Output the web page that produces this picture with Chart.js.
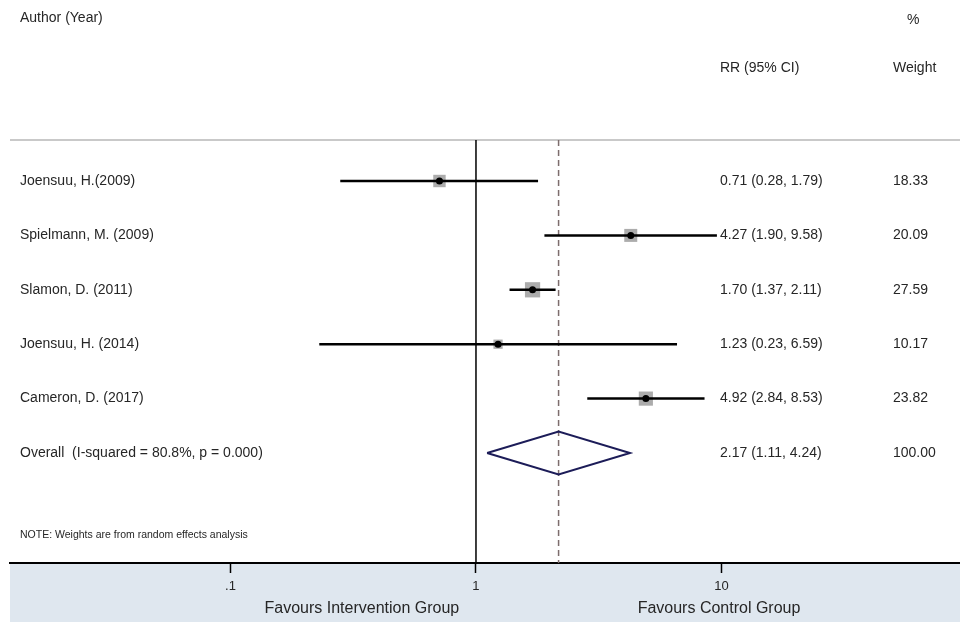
<!DOCTYPE html>
<html><head><meta charset="utf-8">
<script src="https://cdn.jsdelivr.net/npm/chart.js@4/dist/chart.umd.min.js"></script>
<style>html,body{margin:0;padding:0;background:#fff}#wrap{width:960px;height:622px}</style>
</head><body><div id="wrap"><canvas id="c" width="960" height="622"></canvas></div>
<script>
// ---- data ----
const studies = ["Joensuu, H.(2009)", "Spielmann, M. (2009)", "Slamon, D. (2011)", "Joensuu, H. (2014)", "Cameron, D. (2017)"];
const rr = [0.71, 4.27, 1.70, 1.23, 4.92];
const lower = [0.28, 1.90, 1.37, 0.23, 2.84];
const upper = [1.79, 9.58, 2.11, 6.59, 8.53];
const weights = [18.33, 20.09, 27.59, 10.17, 23.82];
const rrText = ["0.71 (0.28, 1.79)", "4.27 (1.90, 9.58)", "1.70 (1.37, 2.11)", "1.23 (0.23, 6.59)", "4.92 (2.84, 8.53)"];
const weightText = ["18.33", "20.09", "27.59", "10.17", "23.82"];
const overallLabel = "Overall  (I-squared = 80.8%, p = 0.000)";
const overallRR = [2.17];
const overallCI = [1.11, 4.24];
const overallText = ["2.17 (1.11, 4.24)", "100.00"];
const tickValues = [0.1, 1, 10];
const tickLabels = [".1", "1", "10"];
const axisTitles = ["Favours Intervention Group", "Favours Control Group"];
const noteText = "NOTE: Weights are from random effects analysis";

// ---- scale limits ----
const XMIN = Math.pow(10, -1.898);
const XMAX = Math.pow(10, 1.9715);
const YMIN = -0.7537;
const YMAX = 7.022;
const FONT = "'Liberation Sans', Arial, sans-serif";
const TXT = '#262626';
const overallRow = studies.length;

const datasets = [];
// dots
datasets.push({
  data: rr.map((v, i) => ({x: v, y: i})),
  pointStyle: 'circle', pointRadius: 3.5, pointBackgroundColor: '#000', pointBorderWidth: 0,
  showLine: false, order: 0
});
// CI lines
studies.forEach((s, i) => {
  datasets.push({
    data: [{x: lower[i], y: i}, {x: upper[i], y: i}],
    showLine: true, borderColor: '#000', borderWidth: 2.5, pointRadius: 0, order: 1
  });
});
// weight squares
datasets.push({
  data: rr.map((v, i) => ({x: v, y: i})),
  pointStyle: 'rect',
  pointRadius: weights.map(w => 2.9 * Math.sqrt(w) / Math.SQRT2),
  pointBackgroundColor: '#acacac', pointBorderWidth: 0,
  showLine: false, order: 2
});
// overall diamond
datasets.push({
  data: [
    {x: overallCI[0], y: overallRow},
    {x: overallRR[0], y: overallRow - 0.395},
    {x: overallCI[1], y: overallRow},
    {x: overallRR[0], y: overallRow + 0.395},
    {x: overallCI[0], y: overallRow}
  ],
  showLine: true, borderColor: '#1c1c58', borderWidth: 2, pointRadius: 0, tension: 0, order: 3
});
// null line at 1
datasets.push({
  data: [{x: 1, y: YMIN}, {x: 1, y: YMAX}],
  showLine: true, borderColor: '#000', borderWidth: 1.5, pointRadius: 0, order: 4
});
// overall dashed line
datasets.push({
  data: [{x: overallRR[0], y: YMIN}, {x: overallRR[0], y: YMAX}],
  showLine: true, borderColor: '#7c6c6c', borderWidth: 1.5, borderDash: [6, 4], pointRadius: 0, order: 5
});

const deco = {
  id: 'deco',
  beforeDraw(chart) {
    const {ctx, chartArea: a} = chart;
    ctx.save();
    ctx.fillStyle = '#dfe7ef';
    ctx.fillRect(a.left, a.bottom, a.right - a.left, chart.height - a.bottom);
    ctx.strokeStyle = '#c9c9c9';
    ctx.lineWidth = 2;
    ctx.beginPath(); ctx.moveTo(a.left, a.top); ctx.lineTo(a.right, a.top); ctx.stroke();
    ctx.restore();
  },
  afterDraw(chart) {
    const ys = chart.scales.y, xs = chart.scales.x;
    const ctx = chart.ctx;
    ctx.save();
    ctx.fillStyle = TXT;
    ctx.textBaseline = 'middle';
    ctx.textAlign = 'left';
    ctx.font = '14px ' + FONT;
    // headers
    ctx.fillText('Author (Year)', 20, 18);
    ctx.fillText('%', 907, 20);
    ctx.fillText('RR (95% CI)', 720, 68);
    ctx.fillText('Weight', 893, 68);
    // rows
    studies.forEach((s, i) => {
      const y = ys.getPixelForValue(i);
      ctx.fillText(s, 20, y);
      ctx.fillText(rrText[i], 720, y);
      ctx.fillText(weightText[i], 893, y);
    });
    const yo = ys.getPixelForValue(overallRow);
    ctx.fillText(overallLabel, 20, yo);
    ctx.fillText(overallText[0], 720, yo);
    ctx.fillText(overallText[1], 893, yo);
    // note
    ctx.font = '10.5px ' + FONT;
    ctx.fillText(noteText, 20, 535);
    // axis titles
    ctx.font = '16px ' + FONT;
    ctx.textAlign = 'center';
    ctx.fillText(axisTitles[0], xs.getPixelForValue(0.343), 609);
    ctx.fillText(axisTitles[1], xs.getPixelForValue(9.77), 609);
    ctx.restore();
  }
};

new Chart(document.getElementById('c'), {
  type: 'scatter',
  data: {datasets},
  options: {
    responsive: false, animation: false, devicePixelRatio: 1,
    layout: {autoPadding: false, padding: {top: 140, left: 10, right: 0, bottom: 0}},
    plugins: {legend: {display: false}, tooltip: {enabled: false}},
    scales: {
      x: {
        type: 'logarithmic', min: XMIN, max: XMAX, bounds: 'data', position: 'bottom',
        afterBuildTicks: s => { s.ticks = tickValues.map(v => ({value: v})); },
        afterFit: s => { s.height = 59; s.paddingLeft = 0; s.paddingRight = 0; },
        ticks: {
          callback: (v, i) => tickLabels[i],
          font: {family: FONT, size: 13}, color: TXT, padding: 6, autoSkip: false, maxRotation: 0
        },
        grid: {display: true, drawOnChartArea: false, drawTicks: true, tickLength: 10, tickColor: '#000', tickWidth: 1.5},
        border: {display: true, color: '#000', width: 2}
      },
      y: {type: 'linear', min: YMIN, max: YMAX, reverse: true, display: false}
    }
  },
  plugins: [deco]
});
</script>
</body></html>
